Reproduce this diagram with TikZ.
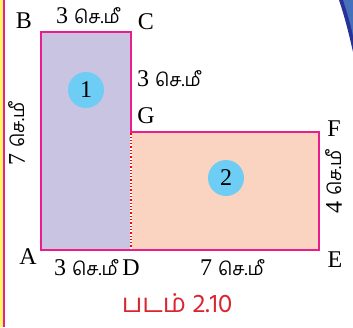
\documentclass[tikz,border=0pt]{standalone}
\usepackage{fontspec}
\setmainfont{Liberation Serif}
\newfontfamily\tamilfont[Script=Tamil]{Hind Madurai}
\definecolor{partone}{RGB}{200,196,226}
\definecolor{parttwo}{RGB}{250,212,192}
\definecolor{edgepink}{RGB}{233,30,140}
\definecolor{numblue}{RGB}{110,205,245}
\definecolor{capred}{RGB}{218,36,48}
\definecolor{pageblue}{RGB}{40,50,150}
\newcommand{\cmunit}{{\tamilfont\fontsize{18}{18}\selectfont செ.மீ}}

\begin{document}
\begin{tikzpicture}[x=1pt,y=-1pt,
    lbl/.style={font=\fontsize{24}{24}\selectfont, inner sep=0pt},
    numdot/.style={circle, fill=numblue, minimum size=36pt, inner sep=0pt,
      font=\fontsize{24}{24}\selectfont}]

    \useasboundingbox (0,0) rectangle (353,327);

    % Page margin strips
    \fill[yellow!60] (0,0) rectangle (2.5,327);
    \fill[edgepink] (2.5,0) rectangle (5,327);
    \fill[pageblue] (339,0) .. controls (345,18) and (349,34) .. (353,52) -- (353,0) -- cycle;
    \fill[numblue!40!pageblue] (343,0) .. controls (348,15) and (351,26) .. (353,36) -- (353,0) -- cycle;

    % Corners
    \coordinate (A) at (41,250);
    \coordinate (B) at (41,32);
    \coordinate (C) at (131,32);
    \coordinate (G) at (131,132);
    \coordinate (F) at (319,132);
    \coordinate (E) at (319,250);
    \coordinate (D) at (131,250);

    % Parts
    \fill[partone] (A) rectangle (C);
    \fill[parttwo] (D) rectangle (F);
    \draw[white, line width=2pt] (D) -- (G);
    \draw[red, line width=1.3pt, dotted] (D) -- (G);
    \draw[edgepink, line width=1.6pt] (A) -- (B) -- (C) -- (G) -- (F) -- (E) -- cycle;

    % Part numbers
    \node[numdot] (one) at (86,90) {1};
    \node[numdot] (two) at (226,178) {2};

    % Corner labels
    \node[lbl] (lA) at (28,257) {A};
    \node[lbl] (lB) at (24,21) {B};
    \node[lbl] (lC) at (146,22) {C};
    \node[lbl] (lG) at (146,116) {G};
    \node[lbl] (lF) at (334,129) {F};
    \node[lbl] (lE) at (335,260) {E};
    \node[lbl] (lD) at (131,268) {D};

    % Lengths
    \node[lbl] (top) at (88,16) {3 \cmunit};
    \node[lbl] (cg) at (169,79) {3 \cmunit};
    \node[lbl, rotate=90] (left) at (17,134) {7 \cmunit};
    \node[lbl, rotate=90] (right) at (334,182) {4 \cmunit};
    \node[lbl] (ad) at (86,268) {3 \cmunit};
    \node[lbl] (de) at (232,268) {7 \cmunit};

    % Caption
    \node[capred, font=\tamilfont\fontsize{26}{26}\selectfont] (cap) at (177,303) {படம் 2.10};
\end{tikzpicture}
\end{document}
